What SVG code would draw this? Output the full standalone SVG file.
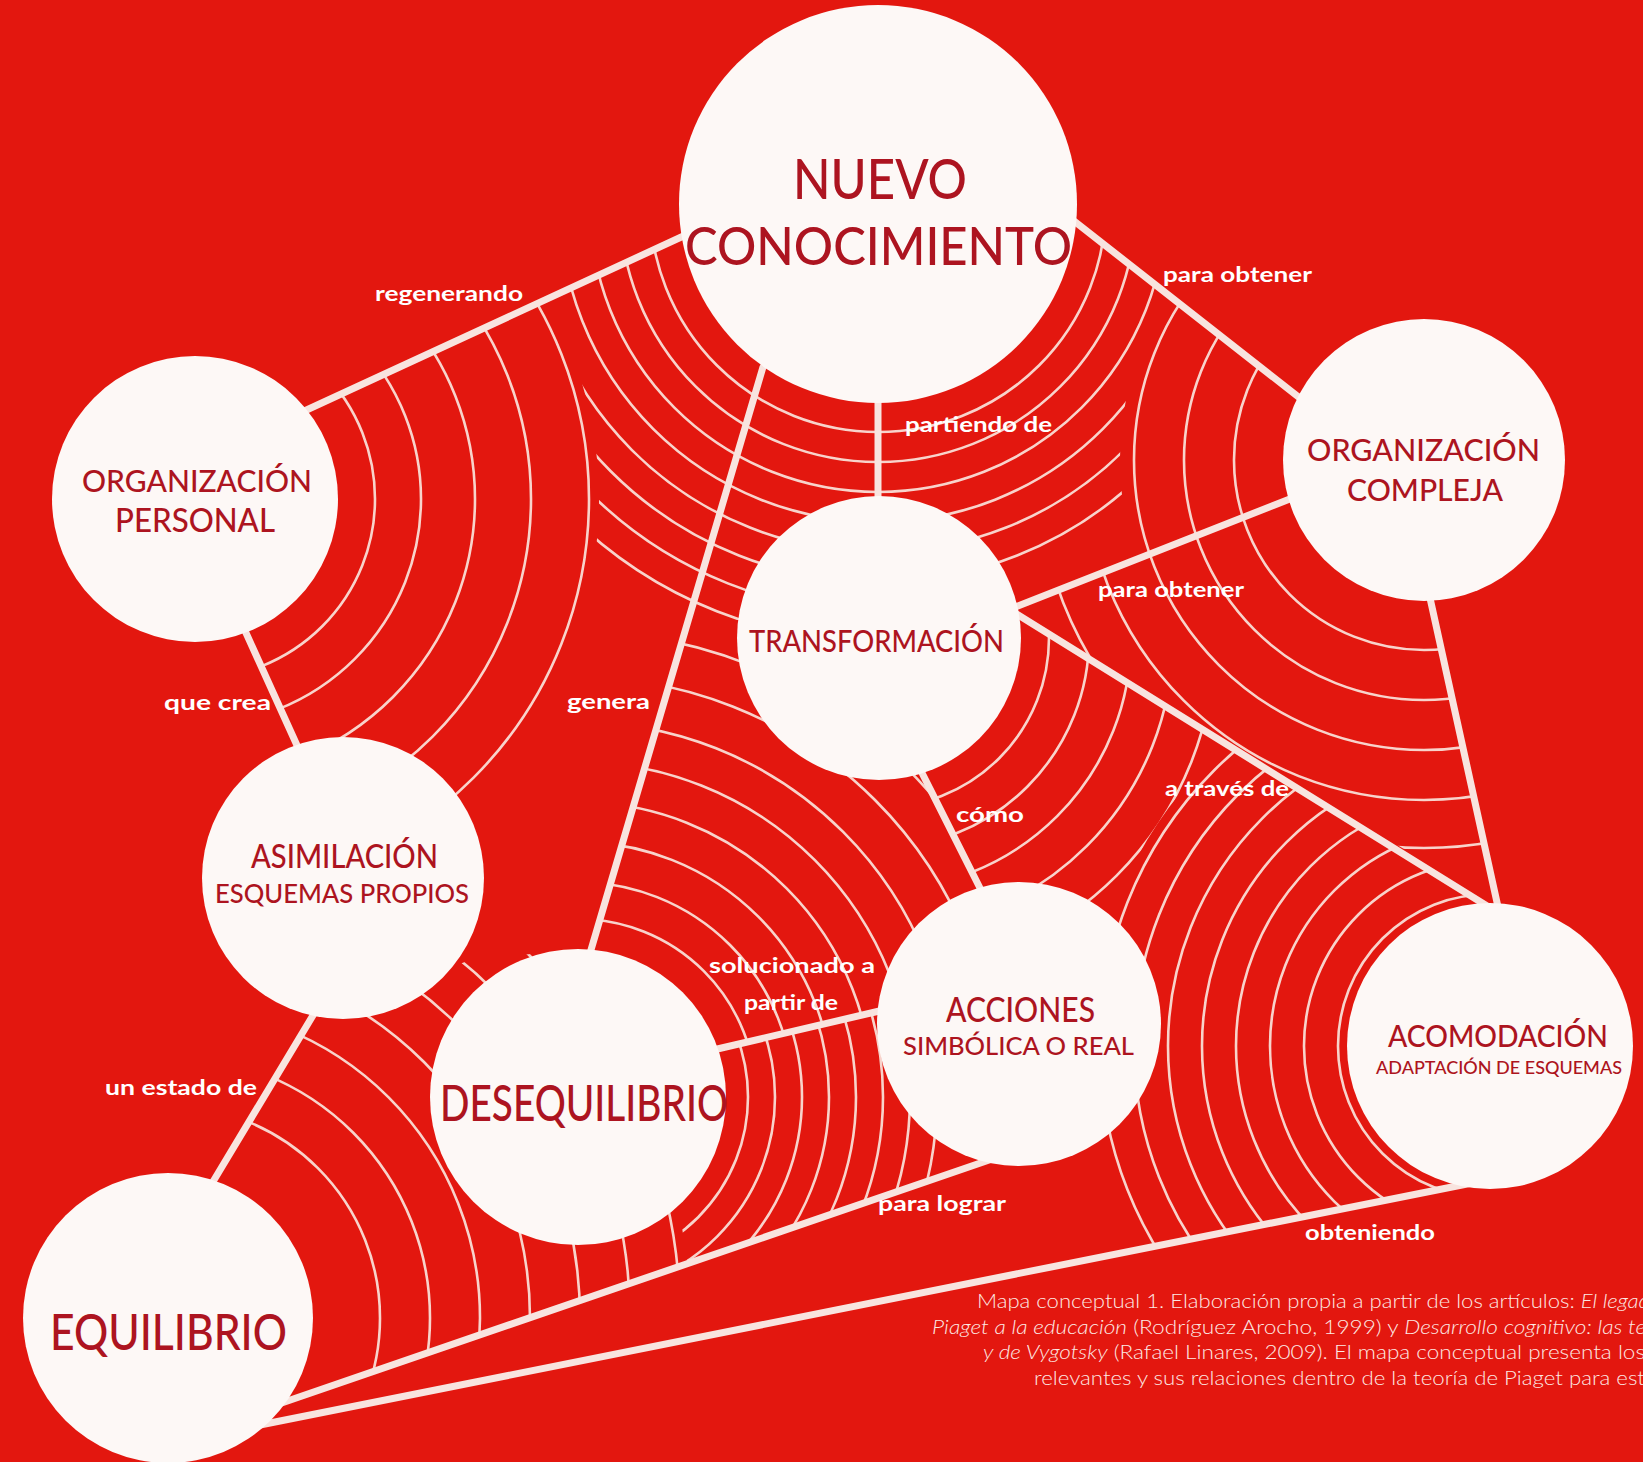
<svg xmlns="http://www.w3.org/2000/svg" width="1643" height="1462" viewBox="0 0 1643 1462">
<style>
.bg{fill:#e3170f}
.arc{fill:none;stroke:#f8d3cb;stroke-width:2.6}
.conn{stroke:#f8e4df;stroke-width:7;stroke-linecap:round;fill:none}
.node{fill:#fdf8f6}
.nt{font-family:Lato,'DejaVu Sans',sans-serif;font-weight:500;fill:#ad1420}
.lbl{font-family:Lato,'DejaVu Sans',sans-serif;font-weight:700;font-size:21px;fill:#ffffff}
.cap{font-family:Lato,'Liberation Sans',sans-serif;font-weight:300;font-size:19px;fill:#fde9e4}
.it{font-style:italic}
</style>
<defs>
<clipPath id="c-op"><polygon points="200,500 312,407 676,239 760,377 621,850 470,960 343,878 295,742 247,634"/></clipPath>
<clipPath id="c-ncl"><polygon points="676,239 312,407 470,960 621,850 688,620 878,620 878,300"/></clipPath>
<clipPath id="c-notop"><path clip-rule="evenodd" d="M0,0H1643V1462H0Z M599,499A404,404 0 1 0 -209,499A404,404 0 1 0 599,499Z"/></clipPath>
<clipPath id="c-ncr"><polygon points="878,300 1070,218 1300,398 1287,500 1020,605 878,605"/></clipPath>
<clipPath id="c-nooc"><path clip-rule="evenodd" d="M0,0H1643V1462H0Z M1728,460A304,304 0 1 0 1120,460A304,304 0 1 0 1728,460Z"/></clipPath>
<clipPath id="c-oc"><polygon points="1070,218 1300,398 1433,610 1498,906 1020,616 1020,605"/></clipPath>
<clipPath id="c-face-c"><polygon points="1012,610 1287,500 1433,610 1498,906 1012,612"/></clipPath>
<clipPath id="c-dtop"><polygon points="688,620 878,620 922,773 980,889 878,1011 723,1048 592,948"/></clipPath>
<clipPath id="c-face-e"><polygon points="1020,616 1490,908 1467,1184 1100,1257 985,1161 980,889 922,773"/></clipPath>
<clipPath id="c-noam"><path clip-rule="evenodd" d="M0,0H1643V1462H0Z M1890,1046A400,400 0 1 0 1090,1046A400,400 0 1 0 1890,1046Z"/></clipPath>
<clipPath id="c-face-f"><polygon points="215,1179 309,1022 470,960 592,948 723,1048 878,1011 985,1161 275,1405"/></clipPath>
<clipPath id="c-noeq"><path clip-rule="evenodd" d="M0,0H1643V1462H0Z M690,1318A522,522 0 1 0 -354,1318A522,522 0 1 0 690,1318Z"/></clipPath>
</defs>
<rect class="bg" x="0" y="0" width="1643" height="1462"/>
<g id="arcs">
<g clip-path="url(#c-op)"><circle class="arc" cx="195" cy="499" r="180"/><circle class="arc" cx="195" cy="499" r="226"/><circle class="arc" cx="195" cy="499" r="280"/><circle class="arc" cx="195" cy="499" r="336"/><circle class="arc" cx="195" cy="499" r="394"/></g>
<g clip-path="url(#c-ncl)"><g clip-path="url(#c-notop)"><circle class="arc" cx="878" cy="204" r="228"/><circle class="arc" cx="878" cy="204" r="258"/><circle class="arc" cx="878" cy="204" r="288"/><circle class="arc" cx="878" cy="204" r="318"/><circle class="arc" cx="878" cy="204" r="348"/><circle class="arc" cx="878" cy="204" r="378"/><circle class="arc" cx="878" cy="204" r="408"/><circle class="arc" cx="878" cy="204" r="438"/></g></g>
<g clip-path="url(#c-ncr)"><g clip-path="url(#c-nooc)"><circle class="arc" cx="878" cy="204" r="228"/><circle class="arc" cx="878" cy="204" r="258"/><circle class="arc" cx="878" cy="204" r="288"/><circle class="arc" cx="878" cy="204" r="318"/><circle class="arc" cx="878" cy="204" r="348"/><circle class="arc" cx="878" cy="204" r="378"/></g></g>
<g clip-path="url(#c-oc)"><circle class="arc" cx="1424" cy="460" r="190"/><circle class="arc" cx="1424" cy="460" r="240"/><circle class="arc" cx="1424" cy="460" r="290"/></g>
<g clip-path="url(#c-face-c)"><circle class="arc" cx="1424" cy="460" r="340"/><circle class="arc" cx="1424" cy="460" r="388"/></g>
<g clip-path="url(#c-dtop)"><circle class="arc" cx="578" cy="1097" r="178"/><circle class="arc" cx="578" cy="1097" r="215"/><circle class="arc" cx="578" cy="1097" r="255"/><circle class="arc" cx="578" cy="1097" r="295"/><circle class="arc" cx="578" cy="1097" r="335"/><circle class="arc" cx="578" cy="1097" r="375"/><circle class="arc" cx="578" cy="1097" r="420"/><circle class="arc" cx="578" cy="1097" r="465"/><circle class="arc" cx="578" cy="1097" r="510"/></g>
<g clip-path="url(#c-face-e)"><g clip-path="url(#c-noam)"><circle class="arc" cx="879" cy="638" r="170"/><circle class="arc" cx="879" cy="638" r="210"/><circle class="arc" cx="879" cy="638" r="252"/><circle class="arc" cx="879" cy="638" r="294"/><circle class="arc" cx="879" cy="638" r="336"/><circle class="arc" cx="879" cy="638" r="378"/></g></g>
<g clip-path="url(#c-face-e)"><circle class="arc" cx="1490" cy="1046" r="152"/><circle class="arc" cx="1490" cy="1046" r="186"/><circle class="arc" cx="1490" cy="1046" r="220"/><circle class="arc" cx="1490" cy="1046" r="254"/><circle class="arc" cx="1490" cy="1046" r="288"/><circle class="arc" cx="1490" cy="1046" r="322"/><circle class="arc" cx="1490" cy="1046" r="356"/><circle class="arc" cx="1490" cy="1046" r="390"/></g>
<g clip-path="url(#c-face-f)"><circle class="arc" cx="168" cy="1318" r="212"/><circle class="arc" cx="168" cy="1318" r="262"/><circle class="arc" cx="168" cy="1318" r="312"/><circle class="arc" cx="168" cy="1318" r="362"/><circle class="arc" cx="168" cy="1318" r="412"/><circle class="arc" cx="168" cy="1318" r="462"/><circle class="arc" cx="168" cy="1318" r="512"/></g>
<g clip-path="url(#c-face-f)"><g clip-path="url(#c-noeq)"><circle class="arc" cx="578" cy="1097" r="170"/><circle class="arc" cx="578" cy="1097" r="197"/><circle class="arc" cx="578" cy="1097" r="224"/><circle class="arc" cx="578" cy="1097" r="251"/><circle class="arc" cx="578" cy="1097" r="278"/><circle class="arc" cx="578" cy="1097" r="305"/><circle class="arc" cx="578" cy="1097" r="332"/><circle class="arc" cx="578" cy="1097" r="359"/></g></g>
</g>
<g id="connectors">
<line class="conn" x1="690" y1="233" x2="300" y2="413"/>
<line class="conn" x1="1060" y1="210" x2="1310" y2="406"/>
<line class="conn" x1="878" y1="395" x2="878" y2="505"/>
<line class="conn" x1="763" y1="367" x2="588" y2="960"/>
<line class="conn" x1="242" y1="624" x2="300" y2="752"/>
<line class="conn" x1="315" y1="1012" x2="208" y2="1190"/>
<line class="conn" x1="1010" y1="609" x2="1300" y2="495"/>
<line class="conn" x1="1010" y1="610" x2="1500" y2="914"/>
<line class="conn" x1="1430" y1="598" x2="1500" y2="916"/>
<line class="conn" x1="917" y1="763" x2="986" y2="900"/>
<line class="conn" x1="713" y1="1050" x2="888" y2="1009"/>
<line class="conn" x1="995" y1="1158" x2="270" y2="1407"/>
<line class="conn" x1="1477" y1="1182" x2="260" y2="1425"/>
</g>
<g id="labels">
<text class="lbl" x="375" y="301" textLength="148" lengthAdjust="spacingAndGlyphs">regenerando</text>
<text class="lbl" x="1163" y="282" textLength="149" lengthAdjust="spacingAndGlyphs">para obtener</text>
<text class="lbl" x="905" y="432" textLength="147" lengthAdjust="spacingAndGlyphs">partiendo de</text>
<text class="lbl" x="1098" y="597" textLength="146" lengthAdjust="spacingAndGlyphs">para obtener</text>
<text class="lbl" x="567" y="709" textLength="83" lengthAdjust="spacingAndGlyphs">genera</text>
<text class="lbl" x="164" y="710" textLength="107" lengthAdjust="spacingAndGlyphs">que crea</text>
<text class="lbl" x="105" y="1095" textLength="152" lengthAdjust="spacingAndGlyphs">un estado de</text>
<text class="lbl" x="956" y="822" textLength="68" lengthAdjust="spacingAndGlyphs">cómo</text>
<text class="lbl" x="1165" y="796" textLength="124" lengthAdjust="spacingAndGlyphs">a través de</text>
<text class="lbl" x="709" y="973" textLength="166" lengthAdjust="spacingAndGlyphs">solucionado a</text>
<text class="lbl" x="744" y="1010" textLength="94" lengthAdjust="spacingAndGlyphs">partir de</text>
<text class="lbl" x="878" y="1211" textLength="128" lengthAdjust="spacingAndGlyphs">para lograr</text>
<text class="lbl" x="1305" y="1240" textLength="130" lengthAdjust="spacingAndGlyphs">obteniendo</text>
</g>
<g id="nuevo-conocimiento">
<circle class="node" cx="878" cy="204" r="199"/>
<text class="nt" x="793" y="199" font-size="55" textLength="174" lengthAdjust="spacingAndGlyphs">NUEVO</text>
<text class="nt" x="685" y="265" font-size="53" textLength="387" lengthAdjust="spacingAndGlyphs">CONOCIMIENTO</text>
</g>
<g id="organizacion-personal">
<circle class="node" cx="195" cy="499" r="143"/>
<text class="nt" x="82" y="492" font-size="31" textLength="230" lengthAdjust="spacingAndGlyphs">ORGANIZACIÓN</text>
<text class="nt" x="115" y="532" font-size="32" textLength="160" lengthAdjust="spacingAndGlyphs">PERSONAL</text>
</g>
<g id="organizacion-compleja">
<circle class="node" cx="1424" cy="460" r="141"/>
<text class="nt" x="1307" y="461" font-size="31" textLength="233" lengthAdjust="spacingAndGlyphs">ORGANIZACIÓN</text>
<text class="nt" x="1347" y="501" font-size="31" textLength="156" lengthAdjust="spacingAndGlyphs">COMPLEJA</text>
</g>
<g id="transformacion">
<circle class="node" cx="879" cy="638" r="142"/>
<text class="nt" x="749" y="652" font-size="31" textLength="255" lengthAdjust="spacingAndGlyphs">TRANSFORMACIÓN</text>
</g>
<g id="asimilacion">
<circle class="node" cx="343" cy="878" r="141"/>
<text class="nt" x="251" y="868" font-size="32" textLength="187" lengthAdjust="spacingAndGlyphs">ASIMILACIÓN</text>
<text class="nt" x="215" y="903" font-size="26" textLength="254" lengthAdjust="spacingAndGlyphs">ESQUEMAS PROPIOS</text>
</g>
<g id="desequilibrio">
<circle class="node" cx="578" cy="1097" r="148"/>
<text class="nt" x="440" y="1121" font-size="50" textLength="288" lengthAdjust="spacingAndGlyphs">DESEQUILIBRIO</text>
</g>
<g id="acciones">
<circle class="node" cx="1019" cy="1024" r="142"/>
<text class="nt" x="946" y="1022" font-size="35" textLength="149" lengthAdjust="spacingAndGlyphs">ACCIONES</text>
<text class="nt" x="903" y="1055" font-size="25" textLength="231" lengthAdjust="spacingAndGlyphs">SIMBÓLICA O REAL</text>
</g>
<g id="acomodacion">
<circle class="node" cx="1490" cy="1046" r="143"/>
<text class="nt" x="1388" y="1047" font-size="30" textLength="220" lengthAdjust="spacingAndGlyphs">ACOMODACIÓN</text>
<text class="nt" x="1376" y="1074" font-size="17" textLength="246" lengthAdjust="spacingAndGlyphs">ADAPTACIÓN DE ESQUEMAS</text>
</g>
<g id="equilibrio">
<circle class="node" cx="168" cy="1318" r="145"/>
<text class="nt" x="50" y="1350" font-size="51" textLength="237" lengthAdjust="spacingAndGlyphs">EQUILIBRIO</text>
</g>
<g id="caption">
<text class="cap" x="977" y="1308" textLength="673" lengthAdjust="spacingAndGlyphs">Mapa conceptual 1. Elaboración propia a partir de los artículos: <tspan class="it">El legad</tspan></text>
<text class="cap" x="932" y="1334" textLength="714" lengthAdjust="spacingAndGlyphs"><tspan class="it">Piaget a la educación</tspan> (Rodríguez Arocho, 1999) y <tspan class="it">Desarrollo cognitivo: las te</tspan></text>
<text class="cap" x="983" y="1359" textLength="662" lengthAdjust="spacingAndGlyphs"><tspan class="it">y de Vygotsky</tspan> (Rafael Linares, 2009). El mapa conceptual presenta los</text>
<text class="cap" x="1034" y="1385" textLength="611" lengthAdjust="spacingAndGlyphs">relevantes y sus relaciones dentro de la teoría de Piaget para est</text>
</g>
</svg>
